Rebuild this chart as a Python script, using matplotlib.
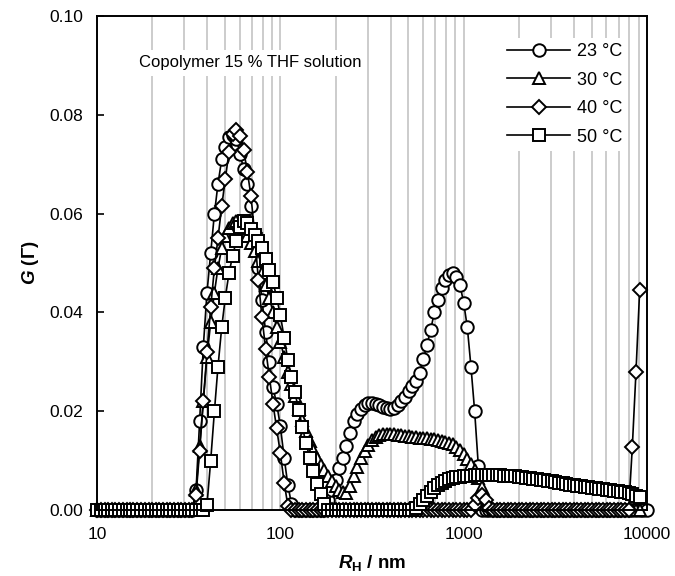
import numpy as np
import matplotlib
matplotlib.use('Agg')
import matplotlib.pyplot as plt
from matplotlib import ticker

plt.rcParams['font.family'] = ['Liberation Sans', 'DejaVu Sans']
plt.rcParams['mathtext.fontset'] = 'custom'
plt.rcParams['mathtext.it'] = 'Liberation Sans:italic:bold'
plt.rcParams['mathtext.rm'] = 'Liberation Sans:bold'
plt.rcParams['mathtext.bf'] = 'Liberation Sans:bold'

# hydrodynamic radius grid (nm)
radius = [10.0, 10.5, 11.0, 11.5, 12.0, 12.6, 13.2, 13.8, 14.5, 15.1, 15.8, 16.6, 17.4, 18.2, 19.1,
          20.0, 20.9, 21.9, 22.9, 24.0, 25.1, 26.3, 27.5, 28.8, 30.2, 31.6, 33.1, 34.7, 36.3, 38.0,
          39.8, 41.7, 43.7, 45.7, 47.9, 50.1, 52.5, 55.0, 57.5, 60.3, 63.1, 66.1, 69.2, 72.4, 75.9,
          79.4, 83.2, 87.1, 91.2, 95.5,
          100, 105, 110, 115, 120, 126, 132, 138, 145, 151, 158, 166, 174, 182, 191,
          200, 209, 219, 229, 240, 251, 263, 275, 288, 302, 316, 331, 347, 363, 380,
          398, 417, 437, 457, 479, 501, 525, 550, 575, 603, 631, 661, 692, 724, 759,
          794, 832, 871, 912, 955,
          1000, 1047, 1096, 1148, 1202, 1259, 1318, 1380, 1445, 1514, 1585, 1660, 1738, 1820, 1905,
          1995, 2089, 2188, 2291, 2399, 2512, 2630, 2754, 2884, 3020, 3162, 3311, 3467, 3631, 3802,
          3981, 4169, 4365, 4571, 4786, 5012, 5248, 5495, 5754, 6026, 6310, 6607, 6918, 7244, 7586,
          7943, 8318, 8710, 9120, 9550,
          10000]

g_23 = ([0.0] * 27 +
        [0.004, 0.018, 0.033, 0.044, 0.052, 0.060, 0.066, 0.071, 0.0735, 0.0755,
         0.076, 0.0752, 0.072, 0.069, 0.066, 0.0615, 0.0555, 0.049, 0.0425, 0.036,
         0.030, 0.0248, 0.0215, 0.017, 0.0105, 0.005, 0.0012] +
        [0.0] * 9 +
        [0.002, 0.004, 0.006, 0.0085, 0.0105, 0.013, 0.0155, 0.018, 0.0195, 0.0205,
         0.0212, 0.0216, 0.0216, 0.0215, 0.0212, 0.0208, 0.0206, 0.0205, 0.0207, 0.0212,
         0.022, 0.0229, 0.024, 0.025, 0.0262, 0.0278, 0.0305, 0.0335, 0.0365, 0.040,
         0.0425, 0.045, 0.0465, 0.0476, 0.048, 0.0472, 0.0455, 0.042, 0.037, 0.029,
         0.020, 0.009] +
        [0.0] * 46)

g_30 = ([0.0] * 27 +
        [0.004, 0.013, 0.022, 0.031, 0.038, 0.044, 0.049, 0.053, 0.0555, 0.057,
         0.058, 0.0585, 0.058, 0.057, 0.0555, 0.054, 0.0525, 0.0505, 0.048, 0.0455,
         0.043, 0.040, 0.037, 0.034, 0.031, 0.028, 0.0255, 0.023, 0.0205, 0.0182,
         0.016, 0.014, 0.0122, 0.0106, 0.0092, 0.008, 0.0068, 0.0058, 0.0048, 0.0041,
         0.0036, 0.0035, 0.0048, 0.0068, 0.0088, 0.0105, 0.012, 0.0132, 0.0141, 0.0147,
         0.0151, 0.0153, 0.0154, 0.0154, 0.0153, 0.0152, 0.0151, 0.015, 0.0149, 0.0148,
         0.0147, 0.0146, 0.0145, 0.0145, 0.0144, 0.0143, 0.0142, 0.014, 0.0138, 0.0136,
         0.0133, 0.0128, 0.0121, 0.0113, 0.0104, 0.0093, 0.008, 0.0065, 0.0047, 0.0027,
         0.001] +
        [0.0] * 41)

g_40 = ([0.0] * 27 +
        [0.003, 0.012, 0.022, 0.032, 0.041, 0.049, 0.055, 0.0615, 0.067, 0.0725,
         0.0762, 0.077, 0.0758, 0.0728, 0.0685, 0.0635, 0.056, 0.0465, 0.039, 0.0325,
         0.027, 0.0215, 0.0165, 0.0115, 0.0055, 0.0008] +
        [0.0] * 50 +
        [0.001, 0.0025, 0.003, 0.002, 0.0005] +
        [0.0] * 38 +
        [0.0128, 0.028, 0.0445])

g_50 = ([0.0] * 30 +
        [0.001, 0.010, 0.020, 0.029, 0.037, 0.043, 0.048, 0.0515, 0.0545, 0.0572,
         0.0585, 0.058, 0.0568, 0.0556, 0.0545, 0.053, 0.0508, 0.0485, 0.0462, 0.043,
         0.0395, 0.0348, 0.0303, 0.027, 0.0238, 0.0203, 0.0168, 0.0135, 0.0105, 0.0078,
         0.0052, 0.0033, 0.0012] +
        [0.0] * 24 +
        [0.0005, 0.0012, 0.002, 0.0029, 0.0037, 0.0044, 0.005, 0.0055, 0.0059, 0.0062,
         0.0064, 0.0066, 0.0067, 0.0068, 0.0069, 0.0069, 0.007, 0.007, 0.007, 0.007,
         0.007, 0.007, 0.007, 0.007, 0.0069, 0.0069, 0.0068, 0.0068, 0.0067, 0.0066,
         0.0065, 0.0064, 0.0063, 0.0062, 0.0061, 0.006, 0.0059, 0.0058, 0.0056, 0.0055,
         0.0054, 0.0052, 0.0051, 0.005, 0.0049, 0.0048, 0.0047, 0.0046, 0.0045, 0.0044,
         0.0043, 0.0042, 0.0041, 0.004, 0.0039, 0.0038, 0.0037, 0.0036, 0.0034, 0.0032,
         0.0029, 0.0026])

series = [g_23, g_30, g_40, g_50]
labels = ['23 °C', '30 °C', '40 °C', '50 °C']
markers = ['o', '^', 'D', 's']
msizes = [9.0, 9.0, 7.5, 8.5]

xtick_vals = [10, 100, 1000, 10000]
xtick_labels = ['10', '100', '1000', '10000']

fig = plt.figure(figsize=(6.75, 5.76), dpi=100)
ax = fig.add_axes([0.1437, 0.1146, 0.8148, 0.8576])

for g, lab, m, ms in zip(series, labels, markers, msizes):
    ax.plot(radius[:len(g)], g, color='black', lw=1.2, marker=m, ms=ms,
            mfc='white', mec='black', mew=1.4, label=lab, clip_on=False, zorder=3)

ax.set_xscale('log')
ax.set_xlim(10, 10000)
ax.set_ylim(0, 0.10)
ax.set_xticks(xtick_vals, labels=xtick_labels)
ax.xaxis.set_minor_locator(ticker.LogLocator(base=10, subs=np.arange(2, 10)))
ax.xaxis.set_minor_formatter(ticker.NullFormatter())
ax.set_yticks(np.arange(0, 0.101, 0.02))
ax.yaxis.set_major_formatter(ticker.FormatStrFormatter('%.2f'))

ax.set_axisbelow(True)
ax.grid(True, axis='x', which='both', color='#c8c8c8', lw=1.3)

ax.tick_params(axis='y', direction='in', length=5, width=1.2, labelsize=12.5, pad=10)
ax.tick_params(axis='x', which='both', length=0, labelsize=12.5, pad=12)
for sp in ax.spines.values():
    sp.set_linewidth(1.4)
    sp.set_zorder(4)

ax.set_xlabel(r'$R_\mathrm{H}$ / nm', fontsize=13.5, fontweight='bold', labelpad=8)
ax.set_ylabel(r'$G$ ($\Gamma$)', fontsize=13.5, fontweight='bold', labelpad=6)

ax.text(0.278, 0.905, 'Copolymer 15 % THF solution', transform=ax.transAxes,
        ha='center', va='center', fontsize=12,
        bbox=dict(facecolor='white', edgecolor='none', pad=4), zorder=2)

leg = ax.legend(loc='upper left', bbox_to_anchor=(0.7356, 0.9555), fontsize=13,
                handlelength=3.5, numpoints=1, frameon=True, fancybox=False,
                borderpad=0.3, labelspacing=0.63, handletextpad=0.35, borderaxespad=0)
leg.get_frame().set_facecolor('white')
leg.get_frame().set_edgecolor('none')
leg.get_frame().set_alpha(1)

plt.savefig('out.png', dpi=100)
